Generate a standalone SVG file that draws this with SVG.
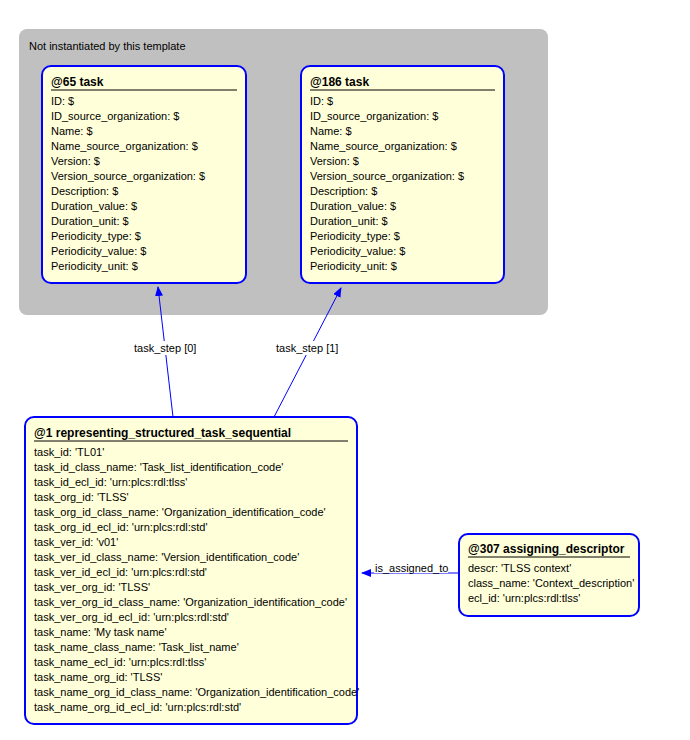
<svg xmlns="http://www.w3.org/2000/svg" width="690" height="740" viewBox="0 0 690 740">
<style>
.n{fill:#ffffd9;stroke:#0000ff;stroke-width:2}
.t{font-family:"Liberation Sans",Arial,sans-serif;font-size:11px;fill:#000}
.b{font-weight:bold;font-size:12px}
.u{stroke:#000;stroke-width:1}
.c{stroke:#0000ff;stroke-width:1;fill:none}
</style>
<defs><marker id="a" markerWidth="10" markerHeight="8" refX="9" refY="4" orient="auto" markerUnits="userSpaceOnUse"><path d="M0,0L10,4L0,8Z" fill="#0000ff"/></marker></defs>
<rect x="19" y="29" width="529" height="286" rx="8" fill="#c0c0c0"/>
<text class="t" x="29" y="50">Not instantiated by this template</text>
<g id="n65">
<rect class="n" x="42" y="66" width="204" height="217" rx="9"/>
<text class="t b" x="51" y="86">@65 task</text>
<line class="u" x1="51" y1="90" x2="237" y2="90"/>
<text class="t" x="51" y="105">ID: $</text><text class="t" x="51" y="120">ID_source_organization: $</text><text class="t" x="51" y="135">Name: $</text><text class="t" x="51" y="150">Name_source_organization: $</text><text class="t" x="51" y="165">Version: $</text><text class="t" x="51" y="180">Version_source_organization: $</text><text class="t" x="51" y="195">Description: $</text><text class="t" x="51" y="210">Duration_value: $</text><text class="t" x="51" y="225">Duration_unit: $</text><text class="t" x="51" y="240">Periodicity_type: $</text><text class="t" x="51" y="255">Periodicity_value: $</text><text class="t" x="51" y="270">Periodicity_unit: $</text>
</g>
<g id="n186">
<rect class="n" x="301" y="66" width="203" height="217" rx="9"/>
<text class="t b" x="310" y="86">@186 task</text>
<line class="u" x1="310" y1="90" x2="495" y2="90"/>
<text class="t" x="310" y="105">ID: $</text><text class="t" x="310" y="120">ID_source_organization: $</text><text class="t" x="310" y="135">Name: $</text><text class="t" x="310" y="150">Name_source_organization: $</text><text class="t" x="310" y="165">Version: $</text><text class="t" x="310" y="180">Version_source_organization: $</text><text class="t" x="310" y="195">Description: $</text><text class="t" x="310" y="210">Duration_value: $</text><text class="t" x="310" y="225">Duration_unit: $</text><text class="t" x="310" y="240">Periodicity_type: $</text><text class="t" x="310" y="255">Periodicity_value: $</text><text class="t" x="310" y="270">Periodicity_unit: $</text>
</g>
<g id="n1">
<rect class="n" x="25" y="417" width="332" height="307" rx="9"/>
<text class="t b" x="34" y="437">@1 representing_structured_task_sequential</text>
<line class="u" x1="34" y1="441" x2="348" y2="441"/>
<text class="t" x="34" y="456">task_id: 'TL01'</text>
<text class="t" x="34" y="471">task_id_class_name: 'Task_list_identification_code'</text>
<text class="t" x="34" y="486">task_id_ecl_id: 'urn:plcs:rdl:tlss'</text>
<text class="t" x="34" y="501">task_org_id: 'TLSS'</text>
<text class="t" x="34" y="516">task_org_id_class_name: 'Organization_identification_code'</text>
<text class="t" x="34" y="531">task_org_id_ecl_id: 'urn:plcs:rdl:std'</text>
<text class="t" x="34" y="546">task_ver_id: 'v01'</text>
<text class="t" x="34" y="561">task_ver_id_class_name: 'Version_identification_code'</text>
<text class="t" x="34" y="576">task_ver_id_ecl_id: 'urn:plcs:rdl:std'</text>
<text class="t" x="34" y="591">task_ver_org_id: 'TLSS'</text>
<text class="t" x="34" y="606">task_ver_org_id_class_name: 'Organization_identification_code'</text>
<text class="t" x="34" y="621">task_ver_org_id_ecl_id: 'urn:plcs:rdl:std'</text>
<text class="t" x="34" y="636">task_name: 'My task name'</text>
<text class="t" x="34" y="651">task_name_class_name: 'Task_list_name'</text>
<text class="t" x="34" y="666">task_name_ecl_id: 'urn:plcs:rdl:tlss'</text>
<text class="t" x="34" y="681">task_name_org_id: 'TLSS'</text>
<text class="t" x="34" y="696">task_name_org_id_class_name: 'Organization_identification_code'</text>
<text class="t" x="34" y="711">task_name_org_id_ecl_id: 'urn:plcs:rdl:std'</text>
</g>
<g id="n307">
<rect class="n" x="459" y="534" width="180" height="82" rx="9"/>
<text class="t b" x="468" y="553">@307 assigning_descriptor</text>
<line class="u" x1="468" y1="557" x2="630" y2="557"/>
<text class="t" x="468" y="572">descr: 'TLSS context'</text>
<text class="t" x="468" y="587">class_name: 'Context_description'</text>
<text class="t" x="468" y="602">ecl_id: 'urn:plcs:rdl:tlss'</text>
</g>
<g id="connectors">
<path class="c" d="M173,417L158,287" marker-end="url(#a)"/>
<path class="c" d="M274,417L341,288" marker-end="url(#a)"/>
<path class="c" d="M459,573L362,573" marker-end="url(#a)"/>
<rect x="132" y="341" width="64" height="14" fill="#fff"/>
<text class="t" x="134" y="352">task_step [0]</text>
<rect x="274" y="341" width="64" height="14" fill="#fff"/>
<text class="t" x="276" y="352">task_step [1]</text>
<rect x="374" y="561" width="74" height="12" fill="#fff"/>
<text class="t" x="375" y="572">is_assigned_to</text>
</g>
</svg>
